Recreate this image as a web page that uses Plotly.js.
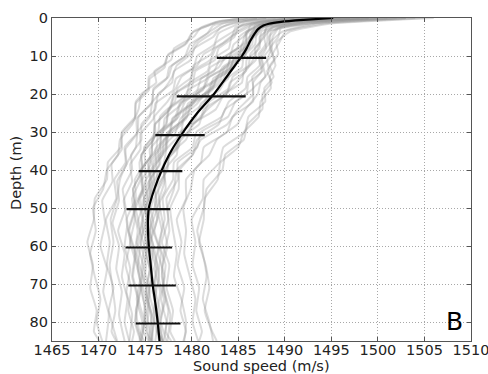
<!DOCTYPE html>
<html>
<head>
<meta charset="utf-8">
<script src="https://cdn.plot.ly/plotly-3.0.1.min.js"></script>
<style>
  html, body { margin: 0; padding: 0; background: #ffffff; }
  #chart { width: 488px; height: 374px; }
</style>
</head>
<body>
<div id="chart"></div>
<script>
// Casts were logged on three slightly different depth grids (m)
const depthGridA = [0, 1, 2.5, 5, 8, 11, 14, 17, 20, 24, 28, 32, 36, 40, 45, 50, 56, 62, 68, 74, 80, 85];
const depthGridB = [0, 1.5, 3.5, 6.5, 9.5, 12.5, 15.5, 18.5, 22, 26, 30, 34, 38, 42.5, 47.5, 53, 59, 65, 71, 77, 82.5, 85];
const depthGridC = [0, 0.8, 2, 4, 7, 10, 13, 16, 19, 22.5, 26.5, 30.5, 34.5, 38.5, 43, 48, 54, 60, 66, 72, 78, 85];
const castGrids = [depthGridA, depthGridB, depthGridC];

// Individual casts: sound speed (m/s); cast i uses castGrids[i % 3]
const castSpeeds = [
  [1503, 1492.8, 1489.4, 1488.7, 1488.6, 1488.1, 1488.3, 1487.4, 1487.1, 1485.8, 1484.9, 1482.7, 1481.9, 1480.3, 1479.9, 1479.1, 1479.4, 1479.2, 1479.8, 1480.4, 1480.1, 1480.7],
  [1488, 1484.1, 1482.5, 1480.7, 1479.9, 1478.4, 1477.9, 1477.1, 1475.8, 1475.5, 1474.2, 1474.0, 1473.1, 1472.3, 1472.0, 1471.3, 1471.6, 1471.2, 1471.5, 1471.8, 1471.4, 1471.9],
  [1496, 1489.9, 1487.5, 1486.9, 1486.0, 1485.6, 1483.9, 1483.4, 1481.7, 1480.6, 1478.8, 1478.2, 1476.7, 1476.6, 1475.4, 1475.6, 1475.0, 1475.3, 1475.5, 1475.1, 1475.6, 1475.8],
  [1500, 1492.1, 1488.7, 1487.8, 1488.0, 1487.3, 1487.5, 1486.6, 1486.6, 1485.0, 1483.8, 1481.0, 1480.1, 1478.4, 1478.1, 1477.4, 1477.6, 1477.0, 1476.8, 1477.2, 1476.6, 1476.9],
  [1491, 1486.4, 1484.9, 1483.4, 1481.3, 1480.6, 1478.9, 1478.3, 1477.4, 1476.0, 1476.1, 1475.0, 1474.4, 1474.5, 1473.6, 1473.9, 1473.4, 1474.1, 1474.6, 1474.0, 1474.4, 1474.9],
  [1498, 1491.0, 1488.1, 1487.0, 1486.8, 1485.6, 1485.4, 1483.7, 1483.0, 1481.0, 1480.4, 1478.6, 1478.3, 1477.0, 1477.1, 1476.5, 1476.9, 1477.4, 1476.8, 1477.1, 1477.7, 1477.4],
  [1486, 1482.7, 1481.0, 1480.2, 1478.1, 1477.8, 1476.0, 1476.2, 1474.6, 1474.3, 1473.6, 1472.3, 1472.1, 1470.9, 1470.5, 1469.4, 1469.7, 1469.1, 1469.6, 1470.2, 1469.8, 1470.4],
  [1505, 1494.1, 1490.1, 1489.4, 1488.7, 1489.0, 1488.4, 1488.5, 1487.4, 1487.2, 1485.6, 1485.0, 1483.1, 1482.8, 1481.4, 1481.3, 1480.8, 1481.5, 1481.9, 1481.4, 1482.2, 1482.7],
  [1494, 1488.8, 1487.1, 1485.8, 1485.4, 1483.7, 1482.9, 1481.0, 1480.6, 1478.7, 1478.2, 1476.4, 1476.2, 1475.0, 1475.1, 1474.3, 1474.8, 1474.5, 1474.2, 1474.7, 1475.0, 1474.6],
  [1499, 1491.6, 1488.0, 1487.8, 1486.8, 1486.9, 1485.6, 1485.4, 1483.5, 1482.6, 1480.1, 1479.4, 1477.6, 1477.4, 1476.1, 1476.3, 1475.5, 1476.1, 1476.5, 1476.0, 1476.3, 1476.8],
  [1490, 1485.6, 1484.5, 1482.6, 1482.1, 1480.2, 1480.0, 1478.5, 1478.2, 1476.6, 1476.4, 1474.9, 1475.0, 1473.9, 1474.0, 1473.0, 1473.4, 1472.9, 1473.5, 1473.2, 1473.8, 1473.6],
  [1495, 1489.5, 1486.8, 1486.6, 1485.4, 1485.1, 1483.3, 1482.7, 1480.7, 1479.9, 1477.9, 1477.6, 1476.1, 1476.2, 1475.0, 1475.3, 1474.6, 1475.2, 1474.9, 1475.5, 1475.2, 1475.7],
  [1502, 1492.5, 1489.3, 1488.3, 1488.4, 1487.5, 1487.6, 1486.1, 1485.9, 1483.6, 1482.9, 1480.6, 1480.1, 1478.7, 1478.6, 1477.7, 1478.0, 1478.4, 1478.1, 1478.9, 1479.4, 1479.2],
  [1487, 1483.3, 1482.0, 1480.4, 1479.6, 1477.9, 1477.5, 1475.9, 1475.8, 1474.3, 1474.2, 1472.8, 1472.9, 1471.7, 1471.9, 1470.8, 1471.2, 1470.9, 1471.6, 1471.1, 1471.7, 1472.0],
  [1497, 1490.5, 1487.4, 1487.2, 1485.9, 1485.8, 1484.2, 1483.9, 1482.0, 1481.3, 1479.2, 1478.8, 1477.3, 1477.0, 1476.0, 1476.2, 1475.6, 1476.4, 1476.0, 1476.6, 1476.3, 1476.9],
  [1492, 1487.4, 1486.0, 1484.3, 1484.0, 1482.1, 1481.7, 1479.8, 1479.5, 1477.5, 1477.3, 1475.8, 1475.7, 1474.6, 1474.7, 1473.8, 1474.2, 1473.9, 1474.5, 1474.1, 1474.7, 1474.4],
  [1501, 1492.5, 1488.5, 1488.4, 1487.4, 1487.7, 1486.5, 1486.6, 1484.7, 1483.9, 1481.0, 1480.6, 1478.5, 1478.5, 1477.3, 1477.5, 1476.8, 1477.6, 1477.3, 1478.0, 1477.7, 1478.2],
  [1496, 1489.7, 1487.6, 1486.3, 1486.2, 1484.6, 1484.2, 1482.3, 1482.0, 1479.6, 1479.2, 1477.3, 1477.2, 1475.9, 1476.0, 1475.1, 1475.6, 1475.2, 1475.8, 1475.4, 1476.0, 1475.7],
  [1489, 1485.3, 1483.1, 1482.3, 1480.3, 1479.9, 1478.1, 1477.9, 1476.4, 1476.1, 1474.6, 1474.6, 1473.5, 1473.6, 1472.6, 1472.9, 1472.1, 1472.8, 1472.5, 1473.1, 1472.8, 1473.3],
  [1506, 1494.8, 1490.6, 1489.1, 1489.3, 1488.4, 1488.8, 1487.8, 1487.9, 1486.1, 1485.7, 1483.4, 1483.0, 1481.3, 1481.2, 1480.0, 1480.4, 1480.1, 1480.8, 1480.5, 1481.1, 1480.8],
  [1494, 1489.0, 1486.3, 1486.0, 1484.5, 1484.1, 1482.0, 1481.6, 1479.6, 1479.0, 1477.1, 1476.9, 1475.5, 1475.6, 1474.6, 1474.9, 1474.2, 1474.9, 1474.6, 1475.2, 1474.9, 1475.5],
  [1499, 1490.9, 1488.6, 1487.3, 1487.3, 1485.9, 1485.8, 1484.1, 1483.8, 1481.3, 1480.8, 1478.6, 1478.4, 1477.1, 1477.2, 1476.3, 1476.8, 1476.4, 1477.1, 1476.7, 1477.3, 1477.0],
  [1485, 1482.3, 1480.2, 1479.5, 1477.5, 1477.0, 1475.4, 1475.3, 1474.0, 1473.9, 1472.5, 1472.4, 1471.0, 1470.9, 1469.6, 1469.5, 1468.8, 1469.4, 1469.1, 1469.8, 1469.5, 1470.1],
  [1495, 1489.1, 1487.2, 1485.9, 1485.9, 1484.3, 1483.8, 1481.6, 1481.2, 1478.8, 1478.4, 1476.7, 1476.6, 1475.4, 1475.6, 1474.8, 1475.3, 1474.9, 1475.5, 1475.1, 1475.7, 1475.4],
  [1491, 1487.1, 1484.7, 1484.3, 1482.6, 1482.0, 1480.1, 1479.8, 1478.1, 1477.6, 1476.1, 1475.9, 1474.6, 1474.7, 1473.7, 1473.9, 1473.2, 1473.9, 1473.6, 1474.2, 1473.9, 1474.5],
  [1503, 1493.2, 1489.8, 1488.4, 1488.7, 1487.7, 1487.9, 1486.6, 1486.6, 1484.4, 1483.8, 1481.3, 1481.0, 1479.4, 1479.4, 1478.4, 1478.9, 1478.5, 1479.2, 1478.8, 1479.4, 1479.1],
  [1497, 1490.4, 1487.2, 1487.0, 1485.7, 1485.4, 1483.5, 1483.1, 1480.9, 1480.2, 1478.0, 1477.7, 1476.4, 1476.5, 1475.5, 1475.8, 1475.2, 1475.9, 1475.6, 1476.2, 1475.9, 1476.5],
  [1493, 1488.0, 1486.5, 1485.1, 1484.9, 1483.0, 1482.4, 1480.2, 1479.7, 1477.6, 1477.2, 1475.8, 1475.7, 1474.6, 1474.8, 1474.0, 1474.5, 1474.1, 1474.7, 1474.3, 1474.9, 1474.6],
  [1500, 1492.0, 1488.2, 1488.1, 1487.2, 1487.3, 1486.0, 1485.8, 1484.0, 1483.2, 1480.5, 1480.1, 1478.1, 1478.0, 1476.9, 1477.1, 1476.5, 1477.2, 1476.9, 1477.5, 1477.2, 1477.8],
  [1488, 1484.5, 1482.3, 1481.7, 1479.8, 1479.3, 1477.6, 1477.3, 1475.9, 1475.7, 1474.1, 1474.1, 1472.9, 1473.0, 1472.0, 1472.2, 1471.5, 1472.2, 1471.9, 1472.5, 1472.2, 1472.8],
  [1496, 1489.6, 1487.6, 1486.2, 1486.2, 1484.5, 1484.0, 1482.1, 1481.7, 1479.2, 1478.9, 1477.0, 1476.9, 1475.6, 1475.8, 1475.0, 1475.5, 1475.1, 1475.7, 1475.3, 1475.9, 1475.6],
  [1498, 1490.8, 1487.5, 1487.3, 1486.3, 1486.1, 1484.4, 1484.0, 1481.9, 1481.1, 1478.9, 1478.6, 1477.1, 1477.0, 1476.0, 1476.3, 1475.6, 1476.3, 1476.0, 1476.6, 1476.3, 1476.9],
  [1490, 1485.8, 1484.6, 1482.9, 1482.4, 1480.6, 1480.2, 1478.3, 1478.0, 1476.1, 1475.9, 1474.5, 1474.5, 1473.4, 1473.6, 1472.7, 1473.1, 1472.8, 1473.4, 1473.0, 1473.6, 1473.3],
  [1504, 1494.6, 1489.6, 1489.3, 1488.4, 1488.9, 1488.1, 1488.6, 1487.6, 1487.6, 1486.0, 1485.6, 1483.6, 1483.3, 1481.6, 1481.3, 1480.6, 1481.2, 1481.6, 1481.2, 1481.9, 1482.3],
  [1494, 1488.9, 1486.5, 1486.3, 1485.0, 1484.6, 1482.7, 1482.2, 1480.2, 1479.5, 1477.5, 1477.2, 1475.8, 1475.9, 1474.9, 1475.2, 1474.5, 1475.1, 1474.8, 1475.4, 1475.1, 1475.7],
  [1487, 1483.0, 1481.8, 1480.0, 1479.3, 1477.4, 1477.1, 1475.5, 1475.4, 1474.0, 1473.9, 1472.5, 1472.5, 1471.4, 1471.5, 1470.4, 1470.7, 1470.2, 1470.9, 1470.5, 1471.1, 1470.8],
  [1499, 1491.4, 1488.1, 1487.6, 1487.1, 1486.6, 1485.8, 1484.8, 1483.6, 1481.7, 1480.2, 1478.9, 1477.6, 1477.3, 1476.4, 1476.6, 1476.0, 1476.7, 1476.4, 1477.0, 1476.7, 1477.3],
  [1493, 1488.6, 1485.9, 1485.8, 1484.2, 1483.9, 1481.9, 1481.3, 1479.3, 1478.6, 1476.8, 1476.6, 1475.3, 1475.5, 1474.5, 1474.8, 1474.1, 1474.8, 1474.5, 1475.1, 1474.8, 1475.4],
  [1497, 1490.2, 1487.9, 1486.6, 1486.5, 1485.1, 1484.6, 1482.7, 1482.2, 1479.9, 1479.4, 1477.5, 1477.3, 1476.2, 1476.3, 1475.4, 1475.9, 1475.5, 1476.2, 1475.8, 1476.4, 1476.1],
  [1492, 1487.4, 1485.0, 1484.6, 1482.9, 1482.5, 1480.4, 1480.1, 1478.2, 1477.7, 1476.0, 1475.9, 1474.6, 1474.7, 1473.7, 1474.0, 1473.3, 1474.0, 1473.7, 1474.3, 1474.0, 1474.6]
];

// Mean profile
const meanDepths = [0, 0.5, 1, 1.5, 2, 3, 4, 6, 8, 10, 12, 15, 20, 25, 30, 35, 40, 45, 50, 55, 60, 65, 70, 75, 80, 85];
const meanSpeeds = [1495.2, 1492.0, 1489.6, 1488.3, 1487.7, 1487.1, 1486.8, 1486.3, 1485.9, 1485.4, 1484.8, 1483.9, 1482.4, 1480.6, 1479.1, 1477.8, 1476.8, 1476.0, 1475.4, 1475.3, 1475.4, 1475.6, 1475.8, 1476.1, 1476.35, 1476.55];

// Standard-deviation bars
const barDepths = [10.5, 20.6, 30.8, 40.3, 50.3, 60.4, 70.4, 80.4];
const barCenters = [1485.35, 1482.1, 1478.75, 1476.65, 1475.35, 1475.4, 1475.75, 1476.4];
const barHalfWidths = [2.65, 3.7, 2.65, 2.35, 2.35, 2.5, 2.55, 2.4];

const xTicks = [1465, 1470, 1475, 1480, 1485, 1490, 1495, 1500, 1505, 1510];
const yTicks = [0, 10, 20, 30, 40, 50, 60, 70, 80];

const xTitle = 'Sound speed (m/s)';
const yTitle = 'Depth (m)';
const panelLabel = 'B';

const traces = castSpeeds.map((speeds, i) => ({
  type: 'scatter',
  mode: 'lines',
  x: speeds,
  y: castGrids[i % castGrids.length],
  line: { color: 'rgba(150,150,150,0.33)', width: 2, shape: 'spline', smoothing: 0.4 },
  hoverinfo: 'skip',
  showlegend: false
}));

traces.push({
  type: 'scatter',
  mode: 'lines',
  x: meanSpeeds,
  y: meanDepths,
  line: { color: '#000000', width: 2.2, shape: 'spline', smoothing: 0.6 },
  showlegend: false
});

traces.push({
  type: 'scatter',
  mode: 'markers',
  x: barCenters,
  y: barDepths,
  marker: { size: 0.1, color: 'rgba(0,0,0,0)' },
  error_x: { type: 'data', array: barHalfWidths, symmetric: true, color: '#111111', thickness: 2.2, width: 0 },
  showlegend: false
});

const tickFont = { family: 'DejaVu Sans, sans-serif', size: 14.5, color: '#222222' };
const titleFont = { family: 'DejaVu Sans, sans-serif', size: 14.5, color: '#222222' };

const axisCommon = {
  showline: true, linecolor: '#555555', linewidth: 1.2, mirror: 'ticks',
  ticks: 'inside', ticklen: 4, tickcolor: '#555555',
  showgrid: true, gridcolor: '#a8a8a8', griddash: '1px,2px', gridwidth: 1,
  zeroline: false,
  tickfont: tickFont
};

const layout = {
  width: 488,
  height: 374,
  margin: { l: 52, r: 17, t: 18, b: 33 },
  paper_bgcolor: '#ffffff',
  plot_bgcolor: '#ffffff',
  font: tickFont,
  xaxis: Object.assign({
    range: [1465, 1510],
    tickvals: xTicks,
    ticktext: xTicks.map(String),
    ticklabelstandoff: -5,
    ticklabeloverflow: 'allow'
  }, axisCommon),
  yaxis: Object.assign({
    range: [85, 0],
    tickvals: yTicks,
    ticktext: yTicks.map(String)
  }, axisCommon),
  annotations: [
    {
      text: xTitle,
      xref: 'paper', yref: 'paper',
      x: 0.5, y: 0, yshift: -25,
      xanchor: 'center', yanchor: 'middle',
      showarrow: false, font: titleFont
    },
    {
      text: yTitle,
      xref: 'paper', yref: 'paper',
      x: 0, xshift: -36, y: 0.52,
      xanchor: 'center', yanchor: 'middle',
      textangle: -90,
      showarrow: false, font: titleFont
    },
    {
      text: panelLabel,
      xref: 'paper', yref: 'paper',
      x: 0.985, y: 0.01,
      xanchor: 'right', yanchor: 'bottom',
      showarrow: false,
      font: { family: 'DejaVu Sans, sans-serif', size: 25, color: '#000000' }
    }
  ]
};

Plotly.newPlot('chart', traces, layout, { displayModeBar: false, staticPlot: true });
</script>
</body>
</html>
